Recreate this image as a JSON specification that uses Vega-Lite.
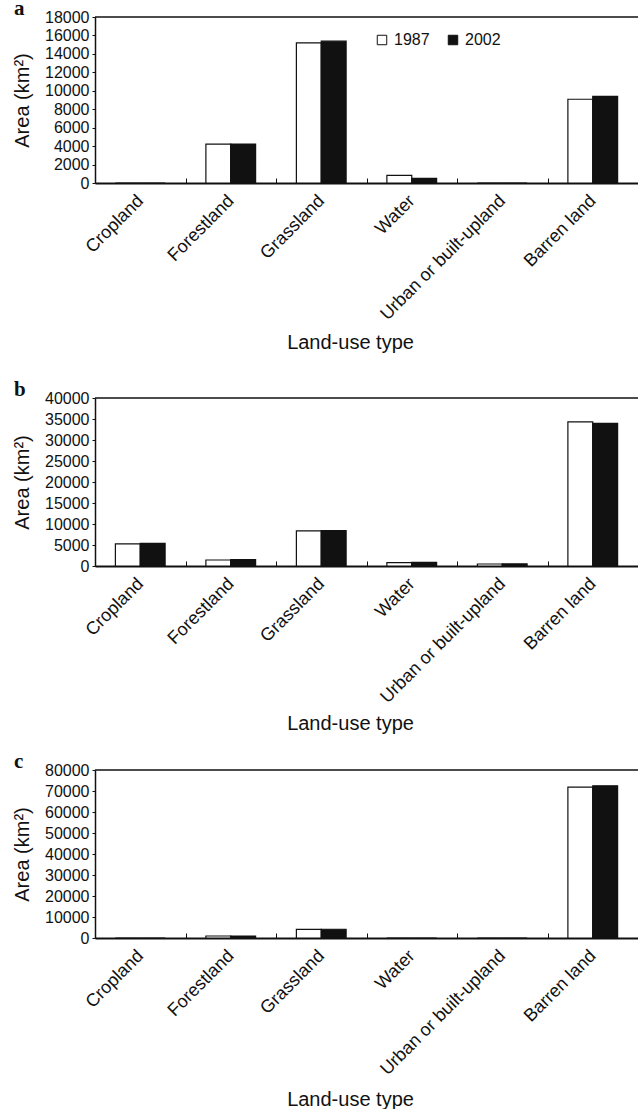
{
  "$schema": "https://vega.github.io/schema/vega-lite/v6.json",
  "padding": {"left": 12, "top": -2, "right": 0, "bottom": 0},
  "background": "white",
  "datasets": {
    "lu": [
      {"panel": "a", "type": "Cropland", "year": "1987", "area": 0},
      {"panel": "a", "type": "Cropland", "year": "2002", "area": 0},
      {"panel": "a", "type": "Forestland", "year": "1987", "area": 4220},
      {"panel": "a", "type": "Forestland", "year": "2002", "area": 4230},
      {"panel": "a", "type": "Grassland", "year": "1987", "area": 15200},
      {"panel": "a", "type": "Grassland", "year": "2002", "area": 15380},
      {"panel": "a", "type": "Water", "year": "1987", "area": 830},
      {"panel": "a", "type": "Water", "year": "2002", "area": 510},
      {"panel": "a", "type": "Urban or built-upland", "year": "1987", "area": 0},
      {"panel": "a", "type": "Urban or built-upland", "year": "2002", "area": 0},
      {"panel": "a", "type": "Barren land", "year": "1987", "area": 9080},
      {"panel": "a", "type": "Barren land", "year": "2002", "area": 9400},
      {"panel": "b", "type": "Cropland", "year": "1987", "area": 5260},
      {"panel": "b", "type": "Cropland", "year": "2002", "area": 5400},
      {"panel": "b", "type": "Forestland", "year": "1987", "area": 1430},
      {"panel": "b", "type": "Forestland", "year": "2002", "area": 1500},
      {"panel": "b", "type": "Grassland", "year": "1987", "area": 8380},
      {"panel": "b", "type": "Grassland", "year": "2002", "area": 8450},
      {"panel": "b", "type": "Water", "year": "1987", "area": 800},
      {"panel": "b", "type": "Water", "year": "2002", "area": 850},
      {"panel": "b", "type": "Urban or built-upland", "year": "1987", "area": 480},
      {"panel": "b", "type": "Urban or built-upland", "year": "2002", "area": 500},
      {"panel": "b", "type": "Barren land", "year": "1987", "area": 34300},
      {"panel": "b", "type": "Barren land", "year": "2002", "area": 33950},
      {"panel": "c", "type": "Cropland", "year": "1987", "area": 0},
      {"panel": "c", "type": "Cropland", "year": "2002", "area": 0},
      {"panel": "c", "type": "Forestland", "year": "1987", "area": 950},
      {"panel": "c", "type": "Forestland", "year": "2002", "area": 950},
      {"panel": "c", "type": "Grassland", "year": "1987", "area": 4130},
      {"panel": "c", "type": "Grassland", "year": "2002", "area": 4170},
      {"panel": "c", "type": "Water", "year": "1987", "area": 0},
      {"panel": "c", "type": "Water", "year": "2002", "area": 0},
      {"panel": "c", "type": "Urban or built-upland", "year": "1987", "area": 0},
      {"panel": "c", "type": "Urban or built-upland", "year": "2002", "area": 0},
      {"panel": "c", "type": "Barren land", "year": "1987", "area": 71800},
      {"panel": "c", "type": "Barren land", "year": "2002", "area": 72500}
    ]
  },
  "config": {
    "font": "Liberation Sans",
    "view": {"stroke": null},
    "axis": {
      "domainColor": "#111111",
      "tickColor": "#111111",
      "labelColor": "#111111",
      "titleColor": "#111111",
      "labelFont": "Liberation Sans",
      "titleFont": "Liberation Sans",
      "titleFontWeight": "normal",
      "labelOverlap": false,
      "grid": false
    },
    "title": {
      "font": "Liberation Serif",
      "fontWeight": "bold",
      "fontSize": 21,
      "color": "#111111",
      "anchor": "start",
      "frame": "group",
      "baseline": "alphabetic",
      "offset": 0
    },
    "legend": {
      "orient": "none",
      "direction": "horizontal",
      "title": null,
      "symbolType": "square",
      "symbolSize": 90,
      "symbolStrokeColor": "#111111",
      "symbolStrokeWidth": 1,
      "labelFont": "Liberation Sans",
      "labelFontSize": 16,
      "labelColor": "#111111",
      "labelOffset": 4,
      "columnPadding": 15,
      "padding": 0
    }
  },
  "spacing": 18,
  "vconcat": [
    {
      "spacing": 27,
      "vconcat": [
        {
          "title": {"text": "a", "dx": -81, "dy": 14},
          "width": 543,
          "height": 166,
          "layer": [
            {
              "data": {"name": "lu"},
              "transform": [{"filter": "datum.panel == 'a'"}],
              "mark": {"type": "bar", "stroke": "#111111", "strokeWidth": 1.2},
              "encoding": {
                "x": {"field": "type", "type": "nominal", "sort": ["Cropland", "Forestland", "Grassland", "Water", "Urban or built-upland", "Barren land"],
                  "scale": {"paddingInner": 0, "paddingOuter": 0},
                  "axis": {"title": "Land-use type", "titleFontSize": 20, "titleX": 255, "titleY": 165, "titleAlign": "center", "titleBaseline": "alphabetic", "labelAngle": -45, "labelAlign": "right", "labelBaseline": "middle", "labelFontSize": 18, "labelPadding": 20, "tickSize": -5, "tickBand": "extent", "domainWidth": 2}},
                "xOffset": {"field": "year", "type": "nominal", "scale": {"paddingOuter": 0.82, "paddingInner": 0}},
                "y": {"field": "area", "type": "quantitative", "scale": {"domain": [0, 18000], "nice": false},
                  "axis": {"title": "Area (km²)", "titleFontSize": 20, "titleX": -73, "titleAngle": 270, "titleBaseline": "middle", "values": [0, 2000, 4000, 6000, 8000, 10000, 12000, 14000, 16000, 18000], "tickCount": 20, "format": "d", "labelOverlap": false, "labelFontSize": 16, "tickSize": 3, "labelPadding": 3, "domainWidth": 1.5}},
                "fill": {"field": "year", "type": "nominal", "scale": {"domain": ["1987", "2002"], "range": ["#ffffff", "#111111"]},
                  "legend": {"legendX": 279, "legendY": 15}}
              }
            },
            {
              "data": {"values": [{"top": 18000}]},
              "mark": {"type": "rule", "color": "#111111", "strokeWidth": 1.5},
              "encoding": {"y": {"field": "top", "type": "quantitative"}}
            }
          ]
        },
        {
          "title": {"text": "b", "dx": -81, "dy": 14},
          "width": 543,
          "height": 168,
          "layer": [
            {
              "data": {"name": "lu"},
              "transform": [{"filter": "datum.panel == 'b'"}],
              "mark": {"type": "bar", "stroke": "#111111", "strokeWidth": 1.2},
              "encoding": {
                "x": {"field": "type", "type": "nominal", "sort": ["Cropland", "Forestland", "Grassland", "Water", "Urban or built-upland", "Barren land"],
                  "scale": {"paddingInner": 0, "paddingOuter": 0},
                  "axis": {"title": "Land-use type", "titleFontSize": 20, "titleX": 255, "titleY": 163, "titleAlign": "center", "titleBaseline": "alphabetic", "labelAngle": -45, "labelAlign": "right", "labelBaseline": "middle", "labelFontSize": 18, "labelPadding": 20, "tickSize": -5, "tickBand": "extent", "domainWidth": 2}},
                "xOffset": {"field": "year", "type": "nominal", "scale": {"paddingOuter": 0.82, "paddingInner": 0}},
                "y": {"field": "area", "type": "quantitative", "scale": {"domain": [0, 40000], "nice": false},
                  "axis": {"title": "Area (km²)", "titleFontSize": 20, "titleX": -73, "titleAngle": 270, "titleBaseline": "middle", "values": [0, 5000, 10000, 15000, 20000, 25000, 30000, 35000, 40000], "tickCount": 20, "format": "d", "labelOverlap": false, "labelFontSize": 16, "tickSize": 3, "labelPadding": 3, "domainWidth": 1.5}},
                "fill": {"field": "year", "type": "nominal", "scale": {"domain": ["1987", "2002"], "range": ["#ffffff", "#111111"]},
                  "legend": {"legendX": 279, "legendY": 15}}
              }
            },
            {
              "data": {"values": [{"top": 40000}]},
              "mark": {"type": "rule", "color": "#111111", "strokeWidth": 1.5},
              "encoding": {"y": {"field": "top", "type": "quantitative"}}
            }
          ]
        }
      ]
    },
    {
      "title": {"text": "c", "dx": -81, "dy": 14},
      "width": 543,
      "height": 168,
      "layer": [
        {
          "data": {"name": "lu"},
          "transform": [{"filter": "datum.panel == 'c'"}],
          "mark": {"type": "bar", "stroke": "#111111", "strokeWidth": 1.2},
          "encoding": {
            "x": {"field": "type", "type": "nominal", "sort": ["Cropland", "Forestland", "Grassland", "Water", "Urban or built-upland", "Barren land"],
              "scale": {"paddingInner": 0, "paddingOuter": 0},
              "axis": {"title": "Land-use type", "titleFontSize": 20, "titleX": 255, "titleY": 167, "titleAlign": "center", "titleBaseline": "alphabetic", "labelAngle": -45, "labelAlign": "right", "labelBaseline": "middle", "labelFontSize": 18, "labelPadding": 20, "tickSize": -5, "tickBand": "extent", "domainWidth": 2}},
            "xOffset": {"field": "year", "type": "nominal", "scale": {"paddingOuter": 0.82, "paddingInner": 0}},
            "y": {"field": "area", "type": "quantitative", "scale": {"domain": [0, 80000], "nice": false},
              "axis": {"title": "Area (km²)", "titleFontSize": 20, "titleX": -73, "titleAngle": 270, "titleBaseline": "middle", "values": [0, 10000, 20000, 30000, 40000, 50000, 60000, 70000, 80000], "tickCount": 20, "format": "d", "labelOverlap": false, "labelFontSize": 16, "tickSize": 3, "labelPadding": 3, "domainWidth": 1.5}},
            "fill": {"field": "year", "type": "nominal", "scale": {"domain": ["1987", "2002"], "range": ["#ffffff", "#111111"]},
              "legend": {"legendX": 279, "legendY": 15}}
          }
        },
        {
          "data": {"values": [{"top": 80000}]},
          "mark": {"type": "rule", "color": "#111111", "strokeWidth": 1.5},
          "encoding": {"y": {"field": "top", "type": "quantitative"}}
        }
      ]
    }
  ]
}
